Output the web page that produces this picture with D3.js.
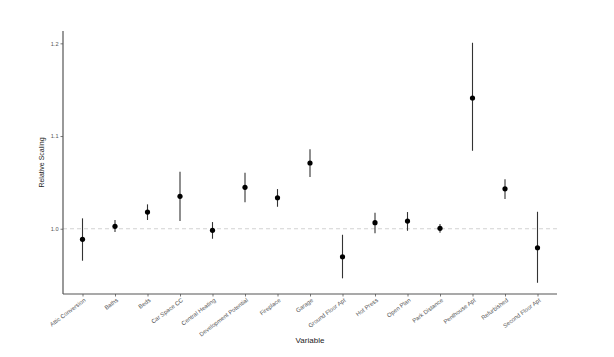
<!DOCTYPE html>
<html><head><meta charset="utf-8">
<script src="https://cdn.jsdelivr.net/npm/d3@7"></script>
<style>body{margin:0;background:#fff}svg{display:block}</style>
</head><body>
<script>
const categories = ["Attic Conversion","Baths","Beds","Car Space CC","Central Heating","Development Potential","Fireplace","Garage","Ground Floor Apt","Hot Press","Open Plan","Park Distance","Penthouse Apt","Refurbished","Second Floor Apt"];
const estimate = [0.9886,1.0026,1.018,1.035,0.9983,1.0447,1.0334,1.0709,0.9698,1.0065,1.0083,1.0004,1.141,1.0431,0.9795];
const upper = [1.0112,1.0094,1.0263,1.0615,1.0072,1.0604,1.0428,1.0857,0.9935,1.0173,1.018,1.005,1.2006,1.0533,1.0183];
const lower = [0.9655,0.9964,1.0094,1.0083,0.9892,1.0285,1.0237,1.0558,0.9465,0.995,0.9978,0.9957,1.0841,1.032,0.9417];
const yTicks = [1.0,1.1,1.2];
const refValue = 1.0;

const W=614,H=357;
const svg=d3.select("body").append("svg").attr("width",W).attr("height",H);
const mL=63,mR=557,mT=31,mB=294;
const x=d3.scalePoint().domain(categories).range([mL,mR]).padding(0.6);
const y=d3.scaleLinear().domain([0.9296,1.2133]).range([mB,mT]);
const data=categories.map((c,i)=>({c,e:estimate[i],u:upper[i],l:lower[i]}));

svg.append("line").attr("x1",mL).attr("x2",mR).attr("y1",y(refValue)).attr("y2",y(refValue))
  .attr("stroke","#c8c8c8").attr("stroke-width",0.8).attr("stroke-dasharray","4,3");

svg.selectAll(".eb").data(data).enter().append("line")
  .attr("x1",d=>x(d.c)).attr("x2",d=>x(d.c)).attr("y1",d=>y(d.u)).attr("y2",d=>y(d.l))
  .attr("stroke","#333").attr("stroke-width",1.1);
svg.selectAll(".pt").data(data).enter().append("circle")
  .attr("cx",d=>x(d.c)).attr("cy",d=>y(d.e)).attr("r",2.6).attr("fill","#000");

const ya=svg.append("g").attr("transform",`translate(${mL},0)`)
  .call(d3.axisLeft(y).tickValues(yTicks).tickFormat(d3.format(".1f")).tickSize(2.5).tickPadding(2));
const xa=svg.append("g").attr("transform",`translate(0,${mB})`)
  .call(d3.axisBottom(x).tickSize(2.5).tickPadding(2));
[ya,xa].forEach(g=>{
  g.select(".domain").attr("stroke","#555").attr("stroke-width",1.2);
  g.selectAll(".tick line").attr("stroke","#555").attr("stroke-width",0.8);
  g.selectAll("text").attr("fill","#555").style("font-family","Liberation Sans, Arial, sans-serif").style("font-size","5.6px");
});
ya.select(".domain").attr("d",`M0,${mT}V${mB}`);
xa.select(".domain").attr("d",`M${mL},0H${mR}`);
xa.selectAll(".tick text").attr("text-anchor","end").attr("dy","0").attr("y",0)
  .style("font-size","5.9px")
  .attr("transform","translate(3,7) rotate(-37)");

svg.append("text").attr("x",(mL+mR)/2).attr("y",343).attr("text-anchor","middle")
  .style("font-family","Liberation Sans, Arial, sans-serif").style("font-size","8px").attr("fill","#222").text("Variable");
svg.append("text").attr("transform",`translate(44,${(mT+mB)/2}) rotate(-90)`).attr("text-anchor","middle")
  .style("font-family","Liberation Sans, Arial, sans-serif").style("font-size","7px").attr("fill","#222").text("Relative Scaling");
</script>
</body></html>
